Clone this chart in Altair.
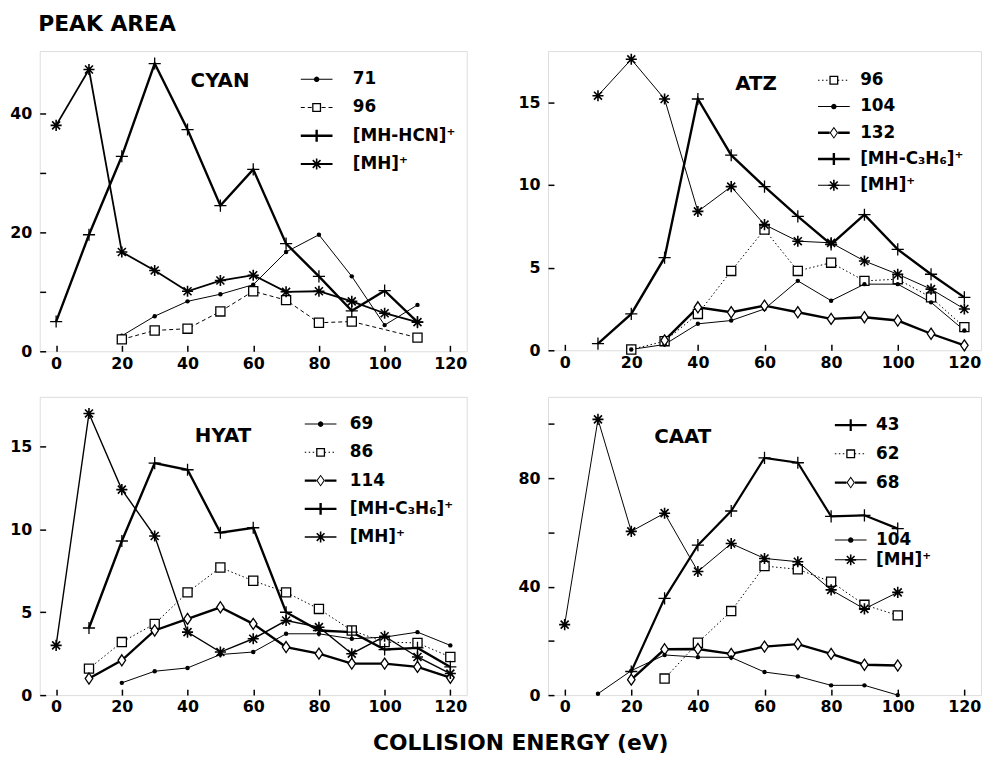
import math
import altair as alt
import pandas as pd

# ---------------- data ----------------
ENERGY = [0, 10, 20, 30, 40, 50, 60, 70, 80, 90, 100, 110, 120]
X_TICKS = [0, 20, 40, 60, 80, 100, 120]

# CYAN
CYAN_71 = [None, None, 2.6, 5.9, 8.4, 9.6, 11.2, 16.7, 19.6, 12.6, 4.4, 7.8, None]
CYAN_96 = [None, None, 2.0, 3.5, 3.8, 6.7, 10.1, 8.6, 4.8, 5.0, None, 2.3, None]
CYAN_MH_HCN = [5.0, 19.6, 32.8, 48.4, 37.3, 24.5, 30.6, 18.1, 12.6, 6.8, 10.2, 4.9, None]
CYAN_MH = [38.0, 47.4, 16.7, 13.6, 10.1, 11.9, 12.8, 10.0, 10.1, 8.4, 6.4, 4.9, None]

# ATZ
ATZ_96 = [None, None, 0.05, 0.55, 2.2, 4.8, 7.3, 4.8, 5.3, 4.2, 4.3, 3.2, 1.4]
ATZ_104 = [None, None, 0.05, 0.35, 1.6, 1.8, 2.5, 4.2, 3.0, 4.0, 4.0, 2.9, 1.2]
ATZ_132 = [None, None, None, 0.6, 2.6, 2.3, 2.7, 2.3, 1.9, 2.0, 1.8, 1.0, 0.3]
ATZ_MH_C3H6 = [None, 0.4, 2.2, 5.6, 15.2, 11.8, 9.9, 8.1, 6.4, 8.2, 6.1, 4.6, 3.2]
ATZ_MH = [None, 15.4, 17.6, 15.2, 8.4, 9.9, 7.6, 6.6, 6.5, 5.4, 4.6, 3.7, 2.5]

# HYAT
HYAT_69 = [None, None, 0.74, 1.44, 1.64, 2.45, 2.6, 3.7, 3.7, 3.4, 3.5, 3.8, 3.0]
HYAT_86 = [None, 1.6, 3.2, 4.3, 6.2, 7.7, 6.9, 6.2, 5.2, 3.9, 3.2, 3.15, 2.3]
HYAT_114 = [None, 1.0, 2.1, 3.9, 4.6, 5.3, 4.3, 2.9, 2.5, 1.9, 1.9, 1.7, 1.05]
HYAT_MH_C3H6 = [None, 4.05, 9.3, 14.0, 13.6, 9.8, 10.1, 5.0, 3.9, 3.8, 2.75, 2.85, 1.7]
HYAT_MH = [3.0, 17.0, 12.4, 9.6, 3.8, 2.6, 3.4, 4.5, 4.1, 2.5, 3.55, 2.3, 1.3]

# CAAT
CAAT_43 = [None, None, 8.7, 35.7, 55.3, 67.9, 87.5, 85.7, 65.9, 66.3, 61.4, None, None]
CAAT_62 = [None, None, None, 6.1, 19.3, 31.0, 47.6, 46.4, 41.8, 33.3, 29.4, None, None]
CAAT_68 = [None, None, 5.7, 16.9, 17.0, 15.2, 17.9, 18.8, 15.2, 11.2, 10.9, None, None]
CAAT_104 = [None, 0.5, 9.0, 14.8, 14.0, 13.9, 8.5, 6.9, 3.6, 3.6, 0.0, None, None]
CAAT_MH = [26.0, 101.7, 60.4, 67.1, 45.6, 55.9, 50.4, 49.2, 38.8, 31.8, 37.9, None, None]

FONT = "DejaVu Sans"

# ---------------- marker glyphs ----------------
PLUS_PATH = "M-1,0L1,0M0,-1L0,1"
STAR_PATH = "M-1,0L1,0M0,-1L0,1M-0.72,-0.72L0.72,0.72M-0.72,0.72L0.72,-0.72"
DIAMOND_PATH = "M0,-1.25L0.85,0L0,1.25L-0.85,0Z"

MARKERS = {
    "dot": dict(shape="circle", filled=True, color="black", size=20, strokeWidth=0),
    "square": dict(shape="square", filled=True, fill="white", stroke="black", strokeWidth=1.3, size=85),
    "diamond": dict(shape=DIAMOND_PATH, filled=True, fill="white", stroke="black", strokeWidth=1.3, size=80),
    "plus": dict(shape=PLUS_PATH, filled=False, stroke="black", strokeWidth=1.3, size=150),
    "star": dict(shape=STAR_PATH, filled=False, stroke="black", strokeWidth=1.6, size=125),
}
DASHES = {"solid": None, "dash": (4, 3), "dot": (1.5, 2.5)}

# ---------------- legend glyphs (line + marker as one filled path) ----------------
R = 7.0  # px per path unit, symbolSize = (2R)^2


def _p(x, y):
    return f"{x / R:.3f},{y / R:.3f}"


def _poly(pts):
    return "M" + "L".join(_p(x, y) for x, y in pts) + "Z"


def _rect(x0, y0, x1, y1, rev=False):
    pts = [(x0, y0), (x1, y0), (x1, y1), (x0, y1)]
    if rev:
        pts = pts[::-1]
    return _poly(pts)


def _bar(angle, half_len, half_w):
    c, s = math.cos(math.radians(angle)), math.sin(math.radians(angle))
    pts = [(-half_len, -half_w), (half_len, -half_w), (half_len, half_w), (-half_len, half_w)]
    return _poly([(x * c - y * s, x * s + y * c) for x, y in pts])


def _line_glyph(style, width, gap, half=16):
    t = width / 2
    if DASHES[style] is None:
        ivs = [(-half, half)]
    else:
        on, off = DASHES[style]
        ivs, x = [], -half
        while x < half:
            ivs.append((x, min(x + on, half)))
            x += on + off
    out = []
    for a, b in ivs:
        parts = ((a, min(b, -gap)), (max(a, gap), b)) if gap > 0 else ((a, b),)
        for lo, hi in parts:
            if hi - lo > 0.2:
                out.append(_rect(lo, -t, hi, t))
    return "".join(out)


def _marker_glyph(kind, width):
    if kind == "dot":
        n, rad = 12, 2.8
        return _poly([(rad * math.cos(2 * math.pi * k / n), rad * math.sin(2 * math.pi * k / n)) for k in range(n)]), 0
    if kind == "square":
        return _rect(-4.5, -4.5, 4.5, 4.5) + _rect(-3.2, -3.2, 3.2, 3.2, rev=True), 4.5
    if kind == "diamond":
        return (_poly([(0, -6), (4.3, 0), (0, 6), (-4.3, 0)])
                + _poly([(0, -4.4), (-3.0, 0), (0, 4.4), (3.0, 0)])), 4.3
    if kind == "plus":
        return _bar(90, 6, max(width / 2, 0.65)), 0
    if kind == "star":
        return "".join(_bar(a, 5.5, 0.8) for a in (0, 45, 90, 135)), 0
    return "", 0


def legend_glyph(style, width, marker):
    m, gap = _marker_glyph(marker, width)
    return _line_glyph(style, width, gap) + m


# ---------------- panel builder ----------------
def panel(name, series, ydomain, yticks, label_step, width, height, title_pos,
          legend_groups, label_offset, ytitle=None, xtitle=None):
    rows = []
    for key, label, vals, style, w, marker in series:
        for e, v in zip(ENERGY, vals):
            if v is not None:
                rows.append({"energy": e, "value": v, "key": key, "label": label})
    df = pd.DataFrame(rows)

    xs = alt.Scale(domain=[-5, 125], nice=False, zero=False)
    ys = alt.Scale(domain=ydomain, nice=False, zero=False)
    common = dict(domain=False, grid=False, ticks=True, tickSize=6, offset=-6,
                  tickColor="black", tickWidth=1.5, labelFont=FONT, labelFontSize=16,
                  labelFontWeight="bold", labelColor="black", labelFlush=False,
                  labelOverlap=False)
    xargs = dict(values=X_TICKS, labelPadding=4, **common)
    if xtitle:
        xaxis = alt.Axis(title=xtitle[0], titleX=xtitle[1], titleY=xtitle[2], titleAlign="center",
                         titleBaseline="alphabetic", titleFont=FONT, titleFontSize=22,
                         titleFontWeight="bold", titleColor="black", **xargs)
    else:
        xaxis = alt.Axis(title=None, **xargs)
    yargs = dict(values=yticks, labelPadding=8,
                 labelExpr=f"datum.value % {label_step} === 0 ? datum.label : ''", **common)
    if ytitle:
        yaxis = alt.Axis(title=ytitle, titleAngle=0, titleX=-8, titleY=-21, titleAlign="left",
                         titleBaseline="alphabetic", titleFont=FONT, titleFontSize=22,
                         titleFontWeight="bold", titleColor="black", **yargs)
    else:
        yaxis = alt.Axis(title=None, **yargs)
    X = alt.X("energy:Q", scale=xs, axis=xaxis)
    Y = alt.Y("value:Q", scale=ys, axis=yaxis)

    base = alt.Chart(df)
    layers = []
    for key, label, vals, style, w, marker in series:
        kw = dict(color="black", strokeWidth=w)
        if DASHES[style]:
            kw["strokeDash"] = list(DASHES[style])
        layers.append(base.transform_filter(alt.datum.key == key).mark_line(**kw).encode(x=X, y=Y))
    for key, label, vals, style, w, marker in series:
        layers.append(base.transform_filter(alt.datum.key == key)
                      .mark_point(opacity=1, **MARKERS[marker]).encode(x=X, y=Y))

    # invisible point layers that carry the legends (one legend per group)
    by_key = {s[0]: s for s in series}
    for gi, (keys, lx, ly, row_padding) in enumerate(legend_groups):
        field = f"lg_{name}_{gi}"
        labels = [by_key[k][1] for k in keys]
        glyphs = [legend_glyph(by_key[k][3], by_key[k][4], by_key[k][5]) for k in keys]
        legend = alt.Legend(orient="none", legendX=lx, legendY=ly, title=None,
                            labelFont=FONT, labelFontSize=17, labelFontWeight="bold",
                            labelColor="black", symbolSize=(2 * R) ** 2, symbolFillColor="black",
                            symbolStrokeColor="black", symbolStrokeWidth=0, symbolOpacity=1,
                            labelOffset=label_offset, rowPadding=row_padding, labelLimit=300,
                            padding=0)
        layers.append(base.transform_filter(alt.FieldOneOfPredicate(field="key", oneOf=keys))
                      .transform_calculate(**{field: "datum.label"})
                      .mark_point(filled=True, color="black", opacity=0).encode(
            x=X, y=Y,
            shape=alt.Shape(f"{field}:N", scale=alt.Scale(domain=labels, range=glyphs),
                            legend=legend)))

    layers.append(alt.Chart(pd.DataFrame({"t": [name]})).mark_text(
        font=FONT, fontSize=20, fontWeight="bold", color="black", align="center",
        baseline="middle").encode(text="t:N", x=alt.value(title_pos[0]), y=alt.value(title_pos[1])))
    return alt.layer(*layers).resolve_scale(shape="independent").properties(
        width=width, height=height)


cyan = panel("CYAN", [
    ("c71", "71", CYAN_71, "solid", 1.0, "dot"),
    ("c96", "96", CYAN_96, "dash", 1.0, "square"),
    ("chcn", "[MH-HCN]⁺", CYAN_MH_HCN, "solid", 2.4, "plus"),
    ("cmh", "[MH]⁺", CYAN_MH, "solid", 1.8, "star"),
], [0, 50.5], [0, 10, 20, 30, 40], 20, 431, 303, (182, 30),
    [(["c71", "c96", "chcn", "cmh"], 271, 20, 10.5)], 28, ytitle="PEAK AREA")

atz = panel("ATZ", [
    ("a96", "96", ATZ_96, "dot", 1.0, "square"),
    ("a104", "104", ATZ_104, "solid", 1.0, "dot"),
    ("a132", "132", ATZ_132, "solid", 2.4, "diamond"),
    ("ac3", "[MH-C₃H₆]⁺", ATZ_MH_C3H6, "solid", 2.4, "plus"),
    ("amh", "[MH]⁺", ATZ_MH, "solid", 1.0, "star"),
], [0, 18.1], [0, 5, 10, 15], 5, 437, 302, (210, 33),
    [(["a96", "a104", "a132", "ac3", "amh"], 280, 21, 8.5)], 18)

hyat = panel("HYAT", [
    ("h69", "69", HYAT_69, "solid", 1.0, "dot"),
    ("h86", "86", HYAT_86, "dot", 1.0, "square"),
    ("h114", "114", HYAT_114, "solid", 2.4, "diamond"),
    ("hc3", "[MH-C₃H₆]⁺", HYAT_MH_C3H6, "solid", 2.4, "plus"),
    ("hmh", "[MH]⁺", HYAT_MH, "solid", 1.4, "star"),
], [0, 18], [0, 5, 10, 15], 5, 431, 301, (185, 40),
    [(["h69", "h86", "h114", "hc3", "hmh"], 275, 19, 10.5)], 21,
    xtitle=("COLLISION ENERGY  (eV)", 485, 61))

caat = panel("CAAT", [
    ("k43", "43", CAAT_43, "solid", 2.2, "plus"),
    ("k62", "62", CAAT_62, "dot", 1.0, "square"),
    ("k68", "68", CAAT_68, "solid", 2.4, "diamond"),
    ("k104", "104", CAAT_104, "solid", 1.0, "dot"),
    ("kmh", "[MH]⁺", CAAT_MH, "solid", 1.0, "star"),
], [0, 110], [0, 20, 40, 60, 80, 100], 40, 437, 301, (136, 41),
    [(["k43", "k62", "k68"], 297, 20, 11), (["k104", "kmh"], 297, 136, 2)], 17)

RES = dict(x="independent", y="independent", shape="independent")
chart = alt.concat(cyan, atz, hyat, caat, columns=2, spacing={"row": 46, "column": 82},
                   bounds="flush").resolve_scale(**RES).properties(
    padding={"left": 1, "top": 0, "right": 0, "bottom": -3},
).configure_view(stroke="black", strokeWidth=2).configure(background="white")

chart.save("out.html", embed_options={"renderer": "svg", "actions": False})
